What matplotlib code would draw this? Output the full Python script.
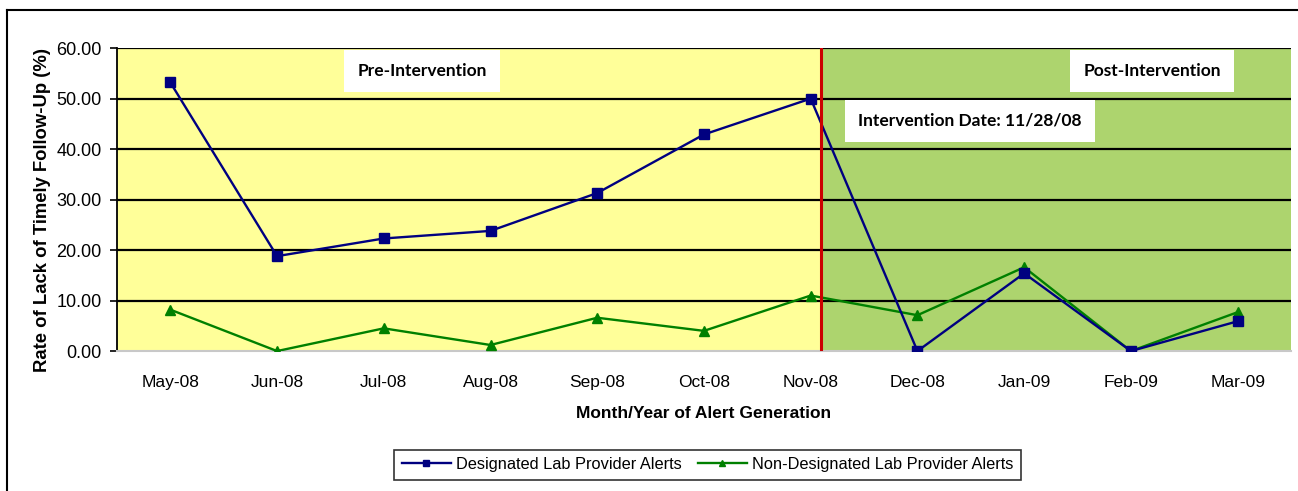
import matplotlib.pyplot as plt
from matplotlib.lines import Line2D

# datos
meses = ['May-08', 'Jun-08', 'Jul-08', 'Aug-08', 'Sep-08', 'Oct-08',
         'Nov-08', 'Dec-08', 'Jan-09', 'Feb-09', 'Mar-09']
designados = [53.2, 18.8, 22.3, 23.8, 31.3, 42.9, 50.0, 0.0, 15.4, 0.0, 5.9]
no_designados = [8.2, 0.0, 4.5, 1.2, 6.6, 4.0, 11.0, 7.1, 16.6, 0.0, 7.7]
yticks = [0, 10, 20, 30, 40, 50, 60]
fecha_intervencion = 6.1  # posicion en el eje x (11/28/08)

plt.rcParams['font.family'] = ['Liberation Sans', 'DejaVu Sans']

fig = plt.figure(figsize=(12.98, 4.91), dpi=100)
ax = fig.add_axes([0.0901, 0.285, 0.9045, 0.617])

x = list(range(len(meses)))

# fondo pre / post
ax.axvspan(-0.5, fecha_intervencion, color='#FFFF99', zorder=0)
ax.axvspan(fecha_intervencion, len(meses) - 0.5, color='#ADD46E', zorder=0)

for t in yticks[1:]:
    ax.axhline(t, color='black', lw=1.6, zorder=1)

ax.plot(x, designados, color='#000080', lw=1.7, marker='s', ms=7.5,
        mec='#000080', label='Designated Lab Provider Alerts', zorder=4)
ax.plot(x, no_designados, color='#008000', lw=1.7, marker='^', ms=7.5,
        label='Non-Designated Lab Provider Alerts', zorder=3)

ax.axvline(fecha_intervencion, color='#CC0000', lw=2.2, zorder=5, ymin=-0.02)

ax.set_xlim(-0.5, len(meses) - 0.5)
ax.set_ylim(0, 60)
ax.set_yticks(yticks)
ax.set_yticklabels(['%.2f' % v for v in yticks], fontsize=13)
ax.set_xticks(x)
ax.set_xticklabels(meses, fontsize=12.5)
ax.tick_params(axis='x', length=0, pad=17)
ax.tick_params(axis='y', length=5, width=1.2, direction='out', pad=6)

for s in ['top', 'right']:
    ax.spines[s].set_visible(False)
ax.spines['bottom'].set_color('#C8C8C8')
ax.spines['bottom'].set_linewidth(1.5)
ax.spines['left'].set_linewidth(1.3)

ax.set_xlabel('Month/Year of Alert Generation', fontsize=12.5, fontweight='bold', labelpad=12)
ax.set_ylabel('Rate of Lack of Timely Follow-Up (%)', fontsize=13.3, fontweight='bold', labelpad=3)
ax.yaxis.set_label_coords(-0.056, 0.465)

caja = dict(boxstyle='square,pad=0.75', fc='white', ec='none')
ax.text(2.36, 55.4, 'Pre-Intervention', fontsize=12.5, fontweight='bold',
        family='Lato', ha='center', va='center', bbox=caja, zorder=6)
ax.text(9.2, 55.4, 'Post-Intervention', fontsize=12.5, fontweight='bold',
        family='Lato', ha='center', va='center', bbox=caja, zorder=6)
ax.text(7.49, 45.6, 'Intervention Date: 11/28/08', fontsize=12.5, fontweight='bold',
        family='Lato', ha='center', va='center', bbox=caja, zorder=6)

ax.legend(loc='center', bbox_to_anchor=(0.503, -0.375), ncol=2, fontsize=11.8,
          frameon=True, fancybox=False, edgecolor='black', handlelength=3,
          borderpad=0.45, columnspacing=1.0, handletextpad=0.3)
leg = ax.get_legend()
leg.get_frame().set_linewidth(1.2)
for h in leg.legend_handles:
    h.set_markersize(5)

# marco exterior
fig.add_artist(Line2D([0.0054, 1.0], [0.98, 0.98], color='black', lw=1.5))
fig.add_artist(Line2D([0.0054, 0.0054], [0.0, 0.98], color='black', lw=1.5))

plt.savefig('out.png', dpi=100)
